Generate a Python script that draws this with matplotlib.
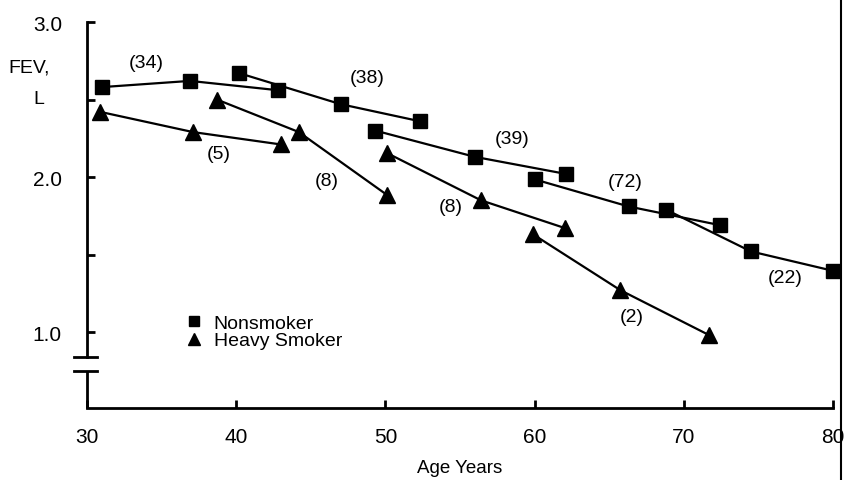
import matplotlib
matplotlib.use('Agg')
import matplotlib.pyplot as plt
from matplotlib.lines import Line2D

# FEV (litres) by age, one short segment per follow-up cohort
ns34_age = [31.0, 36.9, 42.8]
ns34_fev = [2.58, 2.62, 2.56]
ns38_age = [40.2, 47.0, 52.3]
ns38_fev = [2.67, 2.47, 2.36]
ns39_age = [49.3, 56.0, 62.1]
ns39_fev = [2.30, 2.13, 2.02]
ns72_age = [60.0, 66.3, 72.4]
ns72_fev = [1.985, 1.81, 1.69]
ns22_age = [68.8, 74.5, 80.0]
ns22_fev = [1.79, 1.52, 1.395]

hs5_age = [30.9, 37.1, 43.0]
hs5_fev = [2.42, 2.29, 2.21]
hs8a_age = [38.7, 44.2, 50.1]
hs8a_fev = [2.50, 2.29, 1.885]
hs8b_age = [50.1, 56.4, 62.05]
hs8b_fev = [2.155, 1.85, 1.67]
hs2_age = [59.9, 65.75, 71.7]
hs2_fev = [1.63, 1.27, 0.98]

# cohort sizes and where their labels sit
group_labels = ['(34)', '(38)', '(39)', '(72)', '(22)', '(5)', '(8)', '(8)', '(2)']
label_x = [34.0, 48.8, 58.5, 66.1, 76.8, 38.8, 46.1, 54.4, 66.5]
label_y = [2.74, 2.64, 2.25, 1.97, 1.35, 2.15, 1.98, 1.81, 1.10]

x_ticks = [30, 40, 50, 60, 70, 80]
y_ticks = [1.0, 2.0, 3.0]
y_tick_labels = ['1.0', '2.0', '3.0']

plt.rcParams['font.family'] = ['Liberation Sans', 'DejaVu Sans']

fig = plt.figure(figsize=(8.44, 4.81), dpi=100)
ax = fig.add_axes([87 / 844, 1 - 409 / 481, 746 / 844, 386 / 481])

lw = 1.6
for a, f in [(ns34_age, ns34_fev), (ns38_age, ns38_fev), (ns39_age, ns39_fev),
             (ns72_age, ns72_fev), (ns22_age, ns22_fev)]:
    ax.plot(a, f, color='black', lw=lw, marker='s', markersize=10, clip_on=False)

for a, f in [(hs5_age, hs5_fev), (hs8a_age, hs8a_fev), (hs8b_age, hs8b_fev),
             (hs2_age, hs2_fev)]:
    ax.plot(a, f, color='black', lw=lw, marker='^', markersize=11, clip_on=False)

for t, x, y in zip(group_labels, label_x, label_y):
    ax.text(x, y, t, ha='center', va='center', fontsize=14)

ax.set_xlim(30, 80)
ax.set_ylim(0.51, 3.0)

ax.spines['top'].set_visible(False)
ax.spines['right'].set_visible(False)
ax.spines['bottom'].set_linewidth(2)
ax.spines['left'].set_linewidth(2)

# broken y axis: upper part of the spine, stub below, two break bars
brk_hi, brk_lo = 0.839, 0.748
ax.spines['left'].set_bounds(brk_hi, 3.0)
ax.plot([30, 30], [0.51, brk_lo], color='black', lw=2, clip_on=False,
        solid_capstyle='butt')
for yb in (brk_hi, brk_lo):
    ax.plot([29.13, 30.67], [yb, yb], color='black', lw=2, clip_on=False)

ax.set_xticks(x_ticks)
ax.set_yticks(y_ticks)
ax.set_yticklabels(y_tick_labels)
ax.set_yticks([1.5, 2.5], minor=True)
ax.tick_params(axis='both', which='both', direction='in', length=6, width=2,
               labelsize=15)
ax.tick_params(axis='x', pad=14)
ax.tick_params(axis='y', pad=18)
ax.tick_params(axis='y', which='minor', length=6)

ax.set_xlabel('Age Years', fontsize=13.5, labelpad=9)
fig.text(8 / 844, 1 - 68 / 481, 'FEV,', fontsize=14, va='center')
fig.text(33 / 844, 1 - 100 / 481, 'L', fontsize=14, va='center')

handles = [Line2D([], [], color='black', marker='s', ls='none', markersize=7),
           Line2D([], [], color='black', marker='^', ls='none', markersize=8)]
ax.legend(handles, ['Nonsmoker', 'Heavy Smoker'], loc='upper left',
          bbox_to_anchor=(0.115, 0.268), frameon=False, fontsize=14,
          handletextpad=0.4, labelspacing=0.0, borderpad=0,
          handlelength=1.2)

# page edge
fig.add_artist(Line2D([841 / 844, 841 / 844], [0, 1], color='black', lw=1.5))

fig.savefig('out.png', dpi=100)
